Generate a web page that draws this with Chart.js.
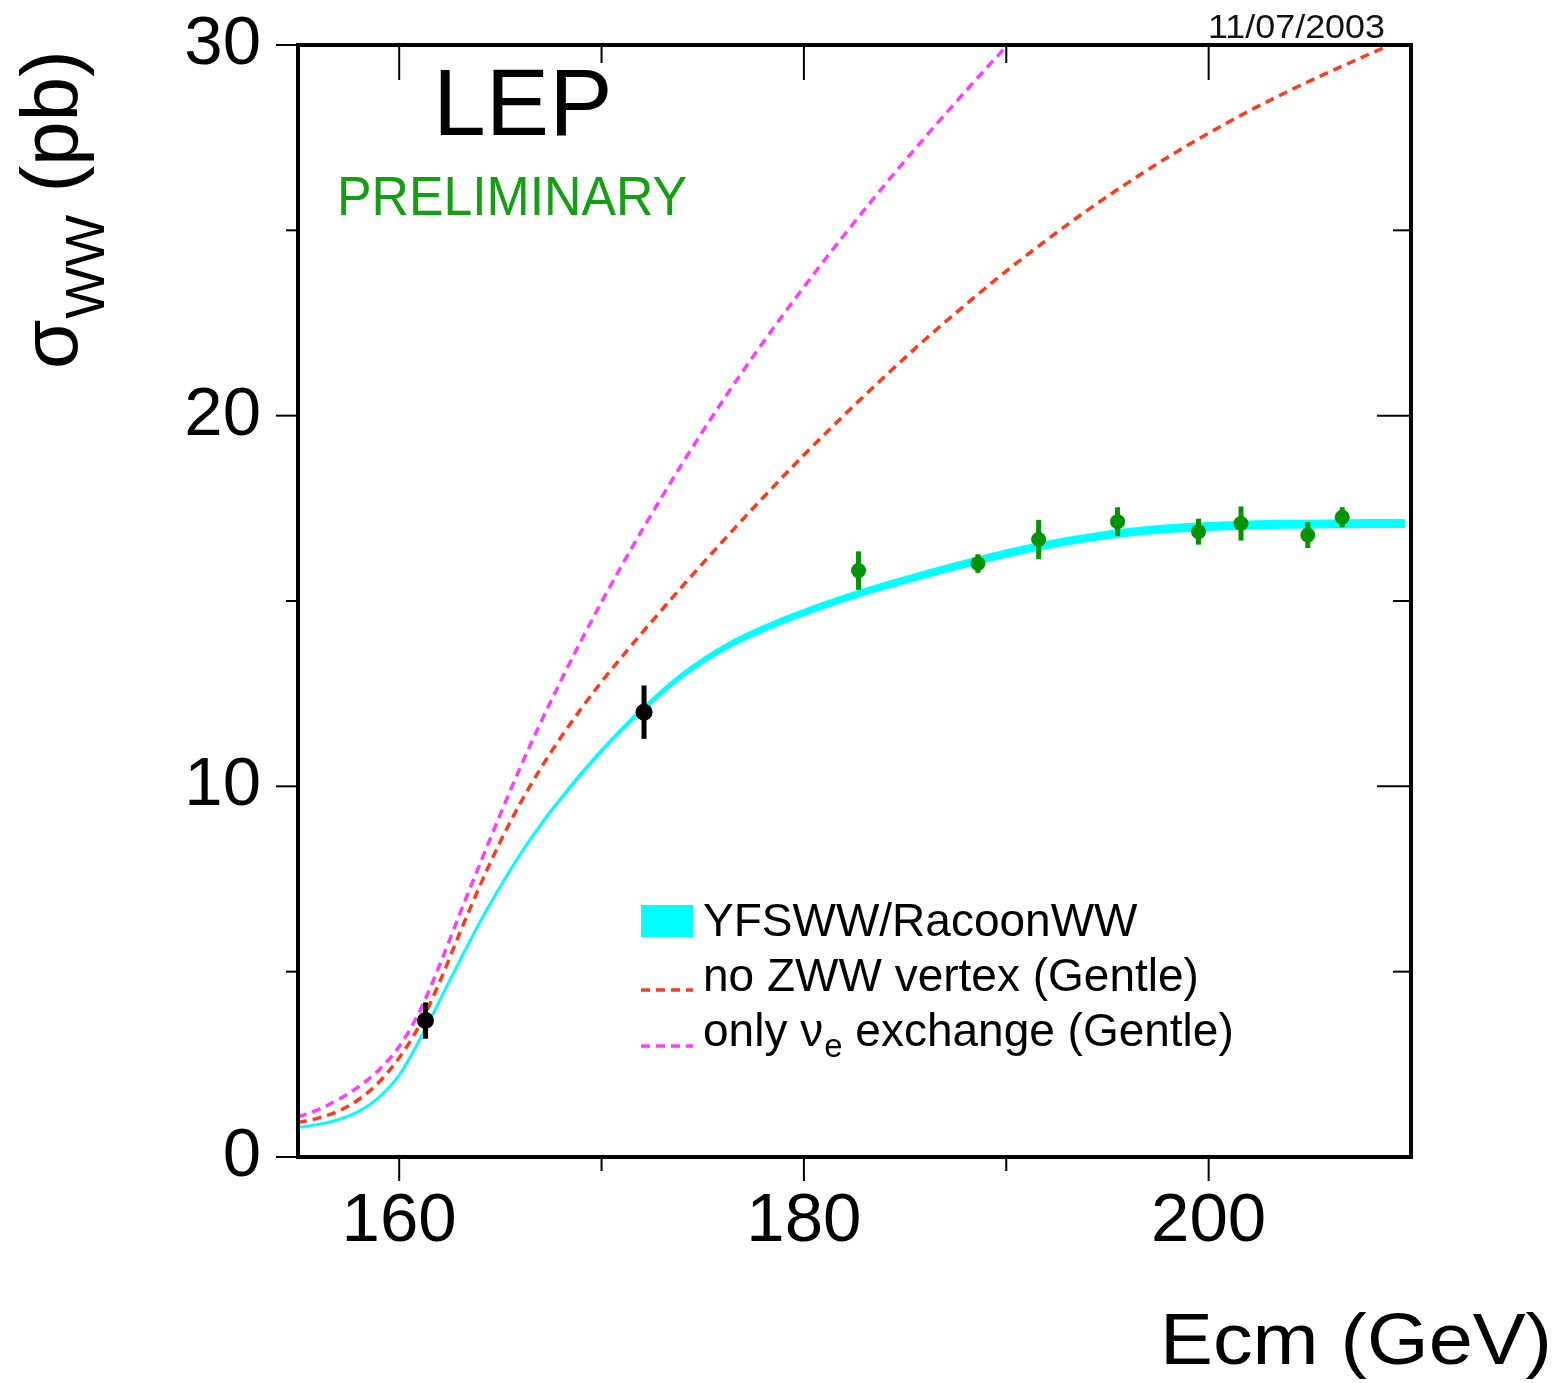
<!DOCTYPE html>
<html>
<head>
<meta charset="utf-8">
<script src="https://cdn.jsdelivr.net/npm/chart.js@4.4.0/dist/chart.umd.min.js"></script>
<style>
html,body{margin:0;padding:0;background:#fff;}
canvas{display:block;}
</style>
</head>
<body>
<canvas id="c" width="1560" height="1383"></canvas>
<script>
const FONT = '"Liberation Sans", Arial, Helvetica, sans-serif';

// Axis ticks
const xTickValues = [160, 180, 200];
const xMinorTicks = [170, 190];
const yTickValues = [0, 10, 20, 30];
const yMinorTicks = [5, 15, 25];

// YFSWW/RacoonWW prediction (cyan band)
const yfswwEnergy = [155,156,157,158,159,160,161,162,163,164,165,166,167,168,169,170,171,172,174,176,178,180,182,184,186,188,190,192,194,196,198,200,202,204,206,208,209.7];
const yfswwXsec   = [0.80,0.88,1.01,1.23,1.61,2.21,3.15,4.22,5.30,6.35,7.30,8.18,8.97,9.68,10.34,10.96,11.53,12.06,13.0,13.72,14.25,14.69,15.07,15.41,15.72,16.01,16.28,16.51,16.70,16.85,16.95,17.01,17.05,17.07,17.08,17.09,17.09];
const yfswwRelativeBand = 0.007;

// no ZWW vertex (Gentle)
const noZwwEnergy = [155,156,157,158,159,160,161,162,163,164,165,166,167,168,169,170,171,172,174,176,178,180,182,184,186,188,190,192,194,196,198,200,202,204,206,208,210];
const noZwwXsec   = [0.93,1.05,1.24,1.55,2.02,2.68,3.55,4.72,6.05,7.33,8.51,9.56,10.49,11.33,12.10,12.82,13.49,14.14,15.40,16.62,17.80,18.94,20.02,21.06,22.06,23.0,23.90,24.74,25.54,26.28,26.98,27.62,28.22,28.77,29.28,29.77,30.24];

// only nu_e exchange (Gentle)
const nueEnergy = [155,156,157,158,159,160,161,162,163,164,165,166,167,168,169,170,171,172,174,176,178,180,182,184,186,188,190,192];
const nueXsec   = [1.08,1.28,1.55,1.9,2.35,2.98,3.92,5.18,6.57,7.92,9.25,10.53,11.73,12.86,13.94,14.97,15.96,16.91,18.72,20.41,21.99,23.47,24.88,26.23,27.52,28.76,29.96,31.1];

// Measurements: threshold points (black)
const earlyEnergy = [161.3, 172.1];
const earlyXsec   = [3.68, 12.0];
const earlyErr    = [0.49, 0.72];

// Measurements: LEP2 combined (green)
const lepEnergy = [182.7, 188.6, 191.6, 195.5, 199.5, 201.6, 204.9, 206.6];
const lepXsec   = [15.82, 16.01, 16.66, 17.14, 16.87, 17.09, 16.78, 17.26];
const lepErr    = [0.52, 0.25, 0.53, 0.39, 0.35, 0.46, 0.35, 0.27];

const CYAN = '#00ffff';
const RED = '#ff3a1c';
const MAGENTA = '#ff3cff';
const GREEN = '#009400';
const TEXTGREEN = '#12a012';

const toXY = (xs, ys) => xs.map((v, i) => ({x: v, y: ys[i]}));

function drawText(ctx, text, x, y, size, color, opts) {
  opts = opts || {};
  ctx.save();
  ctx.font = size + 'px ' + FONT;
  ctx.fillStyle = color;
  ctx.textBaseline = 'alphabetic';
  ctx.textAlign = 'left';
  const w = ctx.measureText(text).width;
  const sx = opts.width ? opts.width / w : 1;
  ctx.translate(x, y);
  ctx.scale(sx, 1);
  ctx.fillText(text, opts.align === 'right' ? -w : 0, 0);
  ctx.restore();
  return w * sx;
}

const errorBars = {
  id: 'errorBars',
  afterDatasetsDraw(chart) {
    const {ctx, scales: {x, y}} = chart;
    ctx.save();
    ctx.lineCap = 'butt';
    const draw = (es, vs, errs, color) => {
      ctx.strokeStyle = color;
      ctx.lineWidth = 5;
      es.forEach((e, i) => {
        const px = x.getPixelForValue(e);
        ctx.beginPath();
        ctx.moveTo(px, y.getPixelForValue(vs[i] - errs[i]));
        ctx.lineTo(px, y.getPixelForValue(vs[i] + errs[i]));
        ctx.stroke();
      });
    };
    draw(earlyEnergy, earlyXsec, earlyErr, '#000');
    draw(lepEnergy, lepXsec, lepErr, GREEN);
    ctx.restore();
  }
};

const frameAndText = {
  id: 'frameAndText',
  afterDraw(chart) {
    const {ctx, chartArea: a, scales: {x, y}} = chart;
    ctx.save();
    ctx.strokeStyle = '#000';
    ctx.lineCap = 'butt';
    ctx.lineWidth = 2;
    const line = (x1, y1, x2, y2) => { ctx.beginPath(); ctx.moveTo(x1, y1); ctx.lineTo(x2, y2); ctx.stroke(); };
    yTickValues.forEach(v => { const p = y.getPixelForValue(v); line(a.left - 22, p, a.left, p); line(a.right - 34, p, a.right, p); });
    yMinorTicks.forEach(v => { const p = y.getPixelForValue(v); line(a.left - 12, p, a.left, p); line(a.right - 18, p, a.right, p); });
    xTickValues.forEach(v => { const p = x.getPixelForValue(v); line(p, a.bottom, p, a.bottom + 24); line(p, a.top, p, a.top + 35); });
    xMinorTicks.forEach(v => { const p = x.getPixelForValue(v); line(p, a.bottom, p, a.bottom + 14); line(p, a.top, p, a.top + 18); });
    ctx.lineWidth = 4;
    ctx.strokeRect(a.left, a.top, a.right - a.left, a.bottom - a.top);
    ctx.restore();

    // Labels
    drawText(ctx, 'LEP', 433, 135, 95, '#000');
    drawText(ctx, 'PRELIMINARY', 337, 215, 56, TEXTGREEN, {width: 350});
    drawText(ctx, '11/07/2003', 1208, 38, 33, '#111', {width: 177});
    drawText(ctx, 'Ecm (GeV)', 1552, 1364, 72, '#000', {width: 392, align: 'right'});

    // Y axis title (rotated)
    ctx.save();
    ctx.translate(77, 369);
    ctx.rotate(-Math.PI / 2);
    let off = drawText(ctx, 'σ', 0, 0, 80, '#000');
    off += drawText(ctx, 'WW', off + 1, 27, 55, '#000') + 1;
    drawText(ctx, ' (pb)', off, 0, 80, '#000');
    ctx.restore();

    // Legend
    ctx.save();
    ctx.fillStyle = CYAN;
    ctx.fillRect(641, 905, 52, 32);
    ctx.lineWidth = 3.5;
    ctx.setLineDash([9, 6]);
    ctx.strokeStyle = RED;
    line(641, 990, 693, 990);
    ctx.strokeStyle = MAGENTA;
    line(641, 1046, 693, 1046);
    ctx.restore();
    drawText(ctx, 'YFSWW/RacoonWW', 703, 936, 46, '#000');
    drawText(ctx, 'no ZWW vertex (Gentle)', 703, 991, 46, '#000');
    let lx = 703;
    lx += drawText(ctx, 'only ', lx, 1046, 46, '#000');
    lx += drawText(ctx, 'ν', lx, 1046, 46, '#000');
    lx += drawText(ctx, 'e', lx + 1, 1057, 33, '#000') + 1;
    drawText(ctx, ' exchange (Gentle)', lx, 1046, 46, '#000');
  }
};

const lineDefaults = {showLine: true, pointRadius: 0, fill: false, cubicInterpolationMode: 'monotone'};

new Chart(document.getElementById('c'), {
  type: 'scatter',
  data: {
    datasets: [
      {label: 'early', data: toXY(earlyEnergy, earlyXsec), showLine: false, pointRadius: 8.5, pointBackgroundColor: '#000', pointBorderWidth: 0, borderColor: '#000'},
      {label: 'lep', data: toXY(lepEnergy, lepXsec), showLine: false, pointRadius: 7.5, pointBackgroundColor: GREEN, pointBorderWidth: 0, borderColor: GREEN},
      Object.assign({label: 'nue', data: toXY(nueEnergy, nueXsec), borderColor: MAGENTA, borderWidth: 3.5, borderDash: [9, 6]}, lineDefaults),
      Object.assign({label: 'noZWW', data: toXY(noZwwEnergy, noZwwXsec), borderColor: RED, borderWidth: 3.5, borderDash: [9, 6]}, lineDefaults),
      Object.assign({label: 'yfsww', data: toXY(yfswwEnergy, yfswwXsec), borderColor: CYAN, borderWidth: 3}, lineDefaults),
      Object.assign({}, lineDefaults, {label: 'bandHi', data: toXY(yfswwEnergy, yfswwXsec.map(v => v * (1 + yfswwRelativeBand))), borderColor: 'rgba(0,0,0,0)', borderWidth: 1, fill: '+1', backgroundColor: CYAN}),
      Object.assign({}, lineDefaults, {label: 'bandLo', data: toXY(yfswwEnergy, yfswwXsec.map(v => v * (1 - yfswwRelativeBand))), borderColor: 'rgba(0,0,0,0)', borderWidth: 1})
    ]
  },
  options: {
    responsive: false,
    devicePixelRatio: 1,
    animation: false,
    events: [],
    layout: {padding: {left: 0, right: 149, top: 45, bottom: 0}},
    plugins: {legend: {display: false}, tooltip: {enabled: false}},
    scales: {
      x: {
        type: 'linear', min: 155, max: 210, position: 'bottom',
        grid: {display: false, drawTicks: false},
        border: {display: false},
        afterBuildTicks: s => { s.ticks = xTickValues.map(v => ({value: v})); },
        afterFit: s => { s.height = 226; s.paddingLeft = 0; s.paddingRight = 0; },
        ticks: {font: {family: FONT, size: 69}, color: '#000', padding: 24, maxRotation: 0, autoSkip: false}
      },
      y: {
        type: 'linear', min: 0, max: 30, position: 'left',
        grid: {display: false, drawTicks: false},
        border: {display: false},
        afterBuildTicks: s => { s.ticks = yTickValues.map(v => ({value: v})); },
        afterFit: s => { s.width = 298; s.paddingTop = 0; s.paddingBottom = 0; },
        ticks: {font: {family: FONT, size: 69}, color: '#000', padding: 37, autoSkip: false}
      }
    }
  },
  plugins: [errorBars, frameAndText]
});
</script>
</body>
</html>
